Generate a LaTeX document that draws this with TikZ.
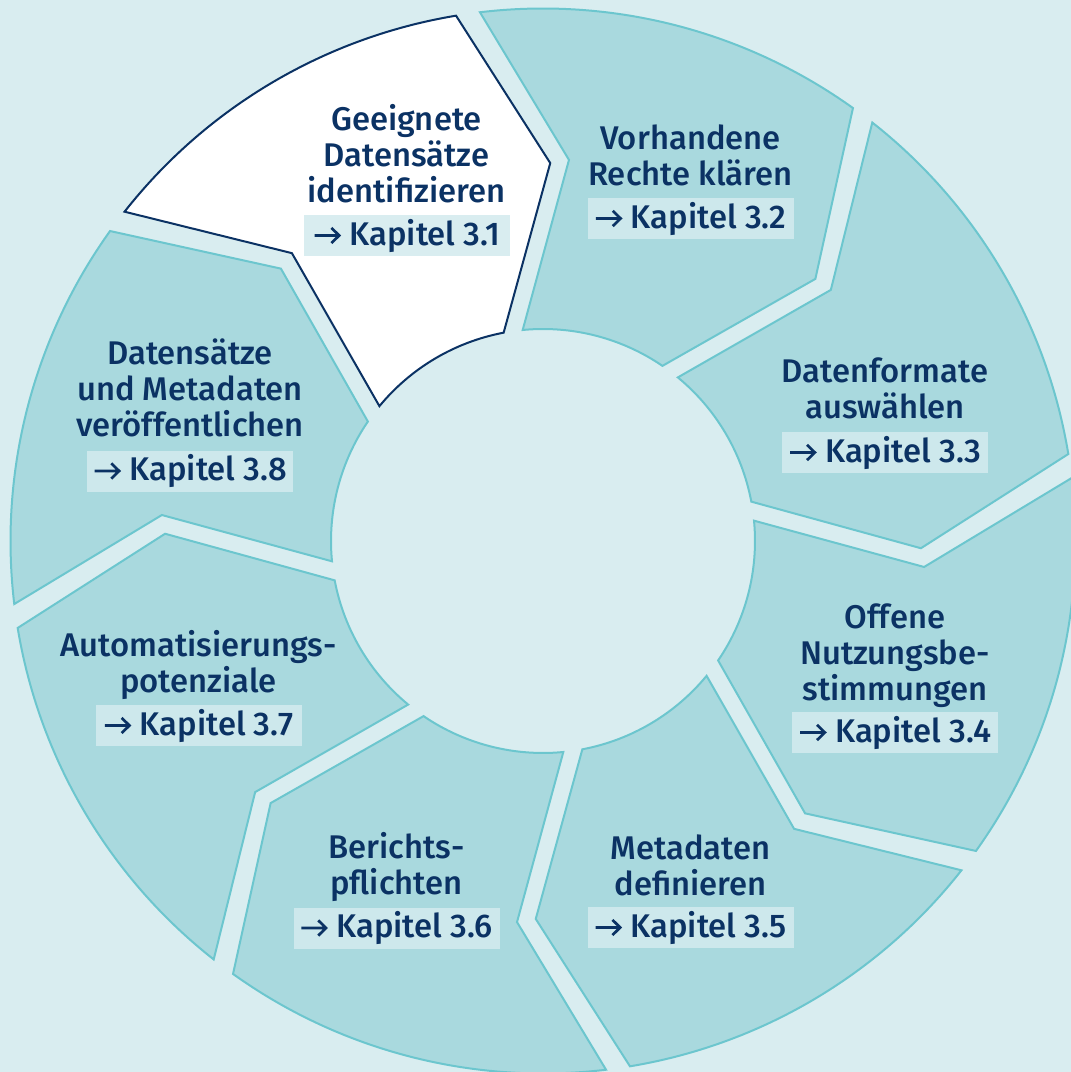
\documentclass[tikz,border=0pt]{standalone}
\usepackage{fontspec}
\setmainfont{Fira Sans}[UprightFont=* Medium]
\definecolor{bgc}{HTML}{D9EDF0}
\definecolor{segfill}{HTML}{A9D9DE}
\definecolor{segline}{HTML}{6CC6CE}
\definecolor{navy}{HTML}{0B3264}
\definecolor{boxteal}{HTML}{CDE8EC}
\definecolor{boxwhite}{HTML}{D9EDF0}
\tikzset{
  seg/.style={fill=segfill, draw=segline, line width=1pt, line join=miter},
  firstseg/.style={fill=white, draw=navy, line width=1pt, line join=miter},
  title/.style={anchor=base, align=center, inner sep=0pt, text=navy,
    font=\fontsize{16.4pt}{18pt}\selectfont},
  chap/.style={inner sep=0pt, minimum width=103pt, minimum height=20.5pt,
    text=navy, font=\fontsize{16.4pt}{18pt}\selectfont},
  chapteal/.style={chap, fill=boxteal},
  chapwhite/.style={chap, fill=boxwhite}
}
\newcommand{\karrow}{\tikz[baseline=0pt, x=1pt, y=1pt]{\draw[navy, line width=1.35pt, line join=miter]
  (0,5) -- (12.3,5) (8.4,8.8) -- (12.3,5) -- (8.4,1.2);}}
\newcommand{\kap}[1]{\karrow\hspace{4.5pt}Kapitel #1}
\newcommand{\segpath}[2]{%
  (#1-1.3:532.5) arc[start angle=#1-1.3, end angle=#2+1.3, radius=532.5]
  -- (#2-9.2:378) -- (#2+2.6:212)
  arc[start angle=#2+2.6, end angle=#1-2.6, radius=212]
  -- (#1-12:382) -- cycle}
\begin{document}
\begin{tikzpicture}[x=0.5pt,y=0.5pt]
\useasboundingbox (0,0) rectangle (1071,1072);
\clip (0,0) rectangle (1071,1072);
\fill[bgc] (0,0) rectangle (1071,1072);
\begin{scope}[shift={(543,531)}]
  \foreach \i in {1,...,7} {
    \pgfmathsetmacro\L{143.1-45*\i}
    \pgfmathsetmacro\R{\L-45}
    \draw[seg] \segpath{\L}{\R};
  }
  \draw[firstseg] \segpath{143.1}{98.1};
\end{scope}
% titles (anchored at the baseline of the last line)
\node[title] (t1) at (406.5,869) {Geeignete\\Datensätze\\identifizieren};
\node[title] (t2) at (690.5,886) {Vorhandene\\Rechte klären};
\node[title] (t3) at (885,653) {Datenformate\\auswählen};
\node[title] (t4) at (895,371) {Offene\\Nutzungsbe-\\stimmungen};
\node[title] (t5) at (690.5,176) {Metadaten\\definieren};
\node[title] (t6) at (396.5,177) {Berichts-\\pflichten};
\node[title] (t7) at (198.5,379) {Automatisierungs-\\potenziale};
\node[title] (t8) at (190,635) {Datensätze\\und Metadaten\\veröffentlichen};
% chapter boxes
\node[chapwhite] (k1) at (406.5,836) {\kap{3.1}};
\node[chapteal] (k2) at (690.5,853) {\kap{3.2}};
\node[chapteal] (k3) at (885,619) {\kap{3.3}};
\node[chapteal] (k4) at (895,339) {\kap{3.4}};
\node[chapteal] (k5) at (690.5,144) {\kap{3.5}};
\node[chapteal] (k6) at (396.5,143.5) {\kap{3.6}};
\node[chapteal] (k7) at (198.5,346) {\kap{3.7}};
\node[chapteal] (k8) at (190,600.5) {\kap{3.8}};
\end{tikzpicture}
\end{document}
